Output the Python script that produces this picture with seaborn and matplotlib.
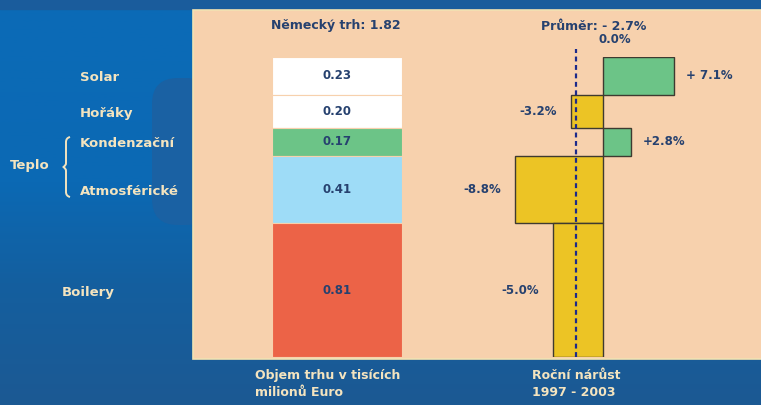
import numpy as np
import matplotlib
matplotlib.use("Agg")
import matplotlib.pyplot as plt
import seaborn as sns
from matplotlib.path import Path
from matplotlib.patches import PathPatch, Rectangle, FancyBboxPatch
from matplotlib.colors import LinearSegmentedColormap
from matplotlib.transforms import blended_transform_factory

# ---------------- data ----------------
categories = ["Solar", "Hořáky", "Kondenzační", "Atmosférické", "Boilery"]
market_values = [0.23, 0.20, 0.17, 0.41, 0.81]          # billion EUR
value_labels = ["0.23", "0.20", "0.17", "0.41", "0.81"]
growth = [7.1, -3.2, 2.8, -8.8, -5.0]                     # annual growth %
growth_labels = ["+ 7.1%", "-3.2%", "+2.8%", "-8.8%", "-5.0%"]
average_growth = -2.7
market_total = 1.82
group_label = "Teplo"
group_members = ["Kondenzační", "Atmosférické"]
title_left = "Německý trh: 1.82"
title_right = "Průměr: - 2.7%"
zero_label = "0.0%"
xlabel_left = "Objem trhu v tisících\nmilionů Euro"
xlabel_right = "Roční nárůst\n1997 - 2003"

# ---------------- style ----------------
sns.set_theme(style="white")
plt.rcParams["font.family"] = ["DejaVu Sans"]

PEACH = "#f7d1ad"
NAVY = "#26416f"
CREAM = "#f4e4bf"
seg_colors = ["#ffffff", "#ffffff", "#6cc487", "#9edcf7", "#ec6347"]
POS = "#6cc487"
NEG = "#ecc425"

W, H = 761, 405
fig = plt.figure(figsize=(W / 100, H / 100), dpi=100)

# background (pixel coordinate canvas)
bg = fig.add_axes([0, 0, 1, 1])
bg.set_xlim(0, W)
bg.set_ylim(H, 0)
bg.axis("off")
grad = LinearSegmentedColormap.from_list(
    "bgblue", [(0, "#0b6bb7"), (0.45, "#0b69b4"), (0.7, "#145f9f"), (1, "#1c5993")])
bg.imshow(np.linspace(0, 1, 256)[:, None], aspect="auto", cmap=grad,
          extent=[0, W, H, 0], zorder=0)
bg.add_patch(Rectangle((0, 0), W, 9, color="#1a5c9c", zorder=1))
bg.add_patch(FancyBboxPatch((152, 78), 60, 147, boxstyle="round,pad=0,rounding_size=26",
                            color="#1a61a3", lw=0, zorder=1))
bg.add_patch(Rectangle((193, 9.5), W - 193 + 2, 349.5, facecolor=PEACH,
                       edgecolor="#f2e2b2", lw=1.2, zorder=2))

# curly brace for the group
bx, y0, y1 = 70, 137, 197
ym = (y0 + y1) / 2
verts = [(bx, y0), (bx - 4, y0 + 1), (bx - 4, y0 + 5),
         (bx - 4, ym - 4),
         (bx - 4, ym - 1), (bx - 7, ym),
         (bx - 4, ym + 1), (bx - 4, ym + 4),
         (bx - 4, y1 - 5),
         (bx - 4, y1 - 1), (bx, y1)]
codes = [Path.MOVETO, Path.CURVE3, Path.CURVE3, Path.LINETO,
         Path.CURVE3, Path.CURVE3, Path.CURVE3, Path.CURVE3,
         Path.LINETO, Path.CURVE3, Path.CURVE3]
bg.add_patch(PathPatch(Path(verts, codes), facecolor="none", edgecolor=CREAM,
                       lw=1.4, zorder=3))

# stacking positions (bottom to top is reversed category order)
n = len(categories)
bottoms = []
acc = 0.0
for v in market_values[::-1]:
    bottoms.append(acc)
    acc += v
bottoms = bottoms[::-1]
centers = [b + v / 2 for b, v in zip(bottoms, market_values)]

ax_bottom = 1 - 357 / H
ax_height = 300 / H

# ---------- left: market volume stacked bar ----------
ax1 = fig.add_axes([272 / W, ax_bottom, 130 / W, ax_height])
ax1.set_xlim(-0.5, 0.5)
ax1.set_ylim(0, market_total)
ax1.bar([0] * n, market_values, bottom=bottoms, width=1.0, color=seg_colors,
        edgecolor=PEACH, linewidth=0.8, zorder=3)
for c, lab in zip(centers, value_labels):
    ax1.text(0, c, lab, ha="center", va="center", fontsize=8.5,
             fontweight="bold", color=NAVY, zorder=4)
ax1.axis("off")
ax1.patch.set_alpha(0)

# category labels on the blue background
tr = blended_transform_factory(fig.transFigure, ax1.transData)
for cat, c in zip(categories, centers):
    x = 62 / W if cat == "Boilery" else 80 / W
    fig.text(x, c - 0.012, cat, transform=tr, ha="left", va="center",
             fontsize=9.5, fontweight="bold", color=CREAM)
grp_c = np.mean([centers[categories.index(g)] for g in group_members])
fig.text(10 / W, grp_c, group_label, transform=tr, ha="left", va="center",
         fontsize=9.5, fontweight="bold", color=CREAM)

fig.text(336 / W, 1 - 26 / H, title_left, ha="center", va="center",
         fontsize=9, fontweight="bold", color=NAVY)

# ---------- right: growth bars with heights = market size ----------
ax2 = fig.add_axes([453 / W, ax_bottom, 300 / W, ax_height])
ax2.set_xlim(-15, 15)
ax2.set_ylim(0, market_total)
ax2.barh(bottoms, growth, height=market_values, left=0, align="edge",
         color=[POS if g > 0 else NEG for g in growth],
         edgecolor="#3e3a30", linewidth=1.0, zorder=3)
ax2.plot([average_growth, average_growth], [0, market_total * 1.026],
         color="#1c2a8a", lw=1.6, linestyle=(0, (2.2, 1.6)), zorder=4, clip_on=False)
for g, c, lab in zip(growth, centers, growth_labels):
    if g > 0:
        ax2.text(g + 1.2, c, lab, ha="left", va="center", fontsize=8.5,
                 fontweight="bold", color=NAVY)
    else:
        ax2.text(g - 1.4, c, lab, ha="right", va="center", fontsize=8.5,
                 fontweight="bold", color=NAVY)
ax2.text(1.2, market_total * 1.06, zero_label, ha="center", va="center",
         fontsize=8.5, fontweight="bold", color=NAVY, clip_on=False)
ax2.axis("off")
ax2.patch.set_alpha(0)
fig.text(594 / W, 1 - 26 / H, title_right, ha="center", va="center",
         fontsize=9, fontweight="bold", color=NAVY)

# bottom captions
fig.text(255 / W, 1 - 369 / H, xlabel_left, ha="left", va="top", fontsize=9,
         fontweight="bold", color=CREAM, linespacing=1.4)
fig.text(532 / W, 1 - 369 / H, xlabel_right, ha="left", va="top", fontsize=9,
         fontweight="bold", color=CREAM, linespacing=1.4)

fig.savefig("out.png", dpi=100)
